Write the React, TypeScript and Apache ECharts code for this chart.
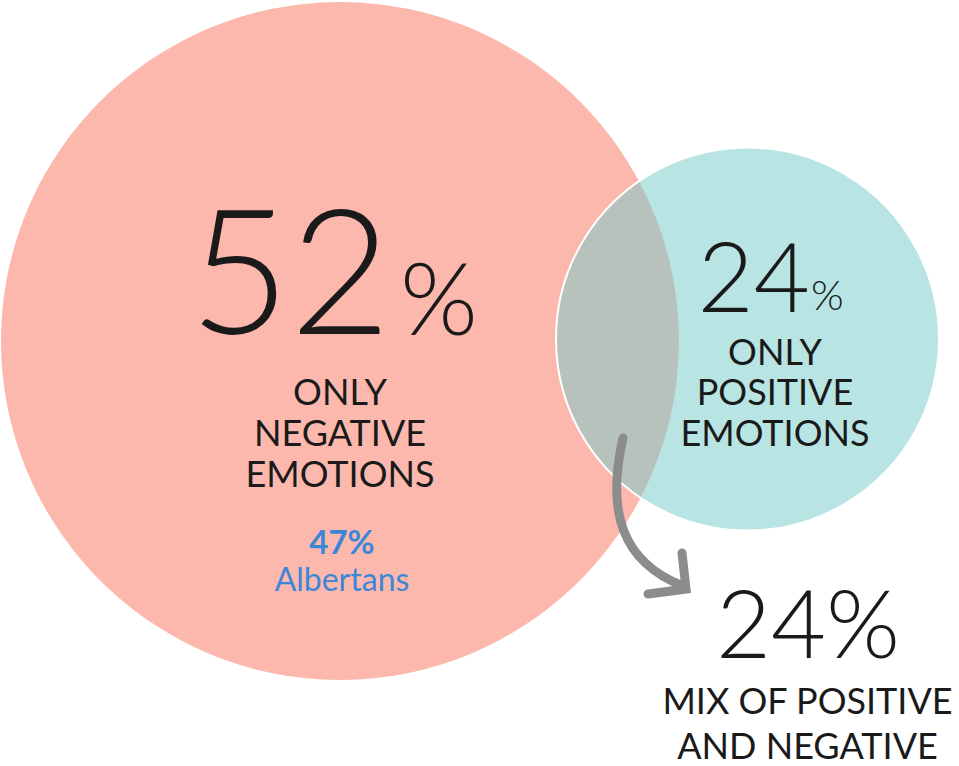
import React, { useEffect, useRef } from "react";
import * as echarts from "echarts";

const categories = ["ONLY NEGATIVE EMOTIONS", "ONLY POSITIVE EMOTIONS", "MIX OF POSITIVE AND NEGATIVE"];
const values = [52, 24, 24];
const albertaValue = 47;
const albertaLabel = "Albertans";

const negLines = ["ONLY", "NEGATIVE", "EMOTIONS"];
const posLines = ["ONLY", "POSITIVE", "EMOTIONS"];
const mixLines = ["MIX OF POSITIVE", "AND NEGATIVE"];

const circA = { cx: 340, cy: 341, r: 339 };
const circB = { cx: 747.5, cy: 339, r: 191.5 };

function lensPath() {
  const dx = circB.cx - circA.cx;
  const dy = circB.cy - circA.cy;
  const d = Math.sqrt(dx * dx + dy * dy);
  const a = (d * d + circA.r * circA.r - circB.r * circB.r) / (2 * d);
  const h = Math.sqrt(circA.r * circA.r - a * a);
  const mx = circA.cx + (a * dx) / d;
  const my = circA.cy + (a * dy) / d;
  const p1x = mx + (h * dy) / d;
  const p1y = my - (h * dx) / d;
  const p2x = mx - (h * dy) / d;
  const p2y = my + (h * dx) / d;
  return `M ${p1x} ${p1y} A ${circA.r} ${circA.r} 0 0 1 ${p2x} ${p2y} A ${circB.r} ${circB.r} 0 0 1 ${p1x} ${p1y} Z`;
}

let registered = false;
function ensureShapes() {
  if (registered) return;
  registered = true;
  echarts.graphic.registerShape("lens", echarts.graphic.extendPath(lensPath(), {}) as any);
}

const FONT = "Lato";
const TXT = "#1a1a1a";

function txt(text: string, x: number, y: number, size: number, opts: any = {}) {
  return {
    type: "text",
    x,
    y,
    style: {
      text,
      fontFamily: FONT,
      fontSize: size,
      fontWeight: opts.weight || "normal",
      lineHeight: Math.round(size * (opts.lh || 1.0)),
      fill: opts.color || TXT,
      textAlign: opts.align || "center",
      textVerticalAlign: "middle",
      verticalAlign: "middle",
      align: opts.align || "center",
    },
  };
}

export default function App() {
  const ref = useRef<HTMLDivElement>(null);
  useEffect(() => {
    if (!ref.current) return;
    ensureShapes();
    const chart = echarts.init(ref.current, null, { renderer: "svg" });
    const elements: any[] = [
      { type: "circle", shape: { cx: circA.cx, cy: circA.cy, r: circA.r }, style: { fill: "#fdb8ae" } },
      { type: "circle", shape: { cx: circB.cx, cy: circB.cy, r: circB.r }, style: { fill: "#b8e5e3" } },
      { type: "lens", x: 0, y: 0, style: { fill: "#b6c2bb" } },
      { type: "circle", shape: { cx: circB.cx, cy: circB.cy, r: circB.r }, style: { fill: "none", stroke: "#ffffff", lineWidth: 2 } },
      {
        type: "bezierCurve",
        shape: { x1: 623, y1: 438, cpx1: 606, cpy1: 512, cpx2: 622, cpy2: 562, x2: 683, y2: 586 },
        style: { fill: "none", stroke: "#8c8c8c", lineWidth: 9, lineCap: "round" },
      },
      {
        type: "polyline",
        shape: { points: [[682, 553], [686, 589], [648, 594]] },
        style: { fill: "none", stroke: "#8c8c8c", lineWidth: 9, lineCap: "round", lineJoin: "miter" },
      },
      // left circle
      txt(String(values[0]), 391, 266, 174, { align: "right", lh: 0.8, weight: 300 }),
      txt("%", 400, 296, 100, { align: "left", lh: 0.8, weight: 300 }),
      ...negLines.map((l, i) => txt(l, 340, 390.5 + i * 41, 36)),
      txt(albertaValue + "%", 342, 541, 33, { weight: "bold", color: "#3b87d6" }),
      txt(albertaLabel, 342, 578, 32, { color: "#3b87d6" }),
      // right circle
      txt(String(values[1]), 810, 274, 97, { align: "right", lh: 0.8, weight: 300 }),
      txt("%", 811, 294, 42, { align: "left", lh: 0.8, weight: 300 }),
      ...posLines.map((l, i) => txt(l, 775, 350.5 + i * 40.5, 36)),
      // mix
      txt(values[2] + "%", 808, 621, 95, { lh: 0.8, weight: 300 }),
      ...mixLines.map((l, i) => txt(l, 807.5, 700 + i * 45, 36)),
    ];
    chart.setOption({ animation: false, graphic: { elements } });
    return () => chart.dispose();
  }, []);
  return (
    <div
      ref={ref}
      style={{ position: "absolute", left: 0, top: 0, width: 959, height: 766, background: "#ffffff" }}
    />
  );
}
